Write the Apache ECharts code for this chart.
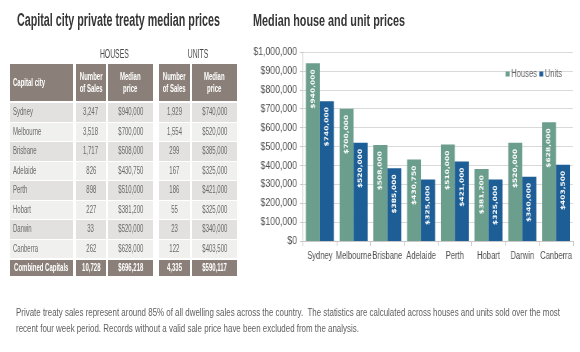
<!DOCTYPE html>
<html>
<head>
<meta charset="utf-8">
<script src="https://cdn.jsdelivr.net/npm/echarts@6/dist/echarts.min.js"></script>
<style>
  html, body { margin: 0; padding: 0; background: #fff; }
  body { width: 580px; height: 352px; position: relative; overflow: hidden;
         font-family: "Liberation Sans", Arial, sans-serif; }
  /* 图表整体横向压缩，模拟窄体字效果 */
  #chart { position: absolute; left: 0; top: 0; width: 763px; height: 352px;
           transform: scaleX(0.76); transform-origin: 0 0; }
  .abs { position: absolute; box-sizing: border-box; }
  .fit { white-space: nowrap; transform-origin: 0 0; }
  .title { font-weight: bold; color: #363636; }
  .cell { display: flex; align-items: center; justify-content: center; overflow: visible; }
  .cell span { display: inline-block; font-size: 10px; line-height: 12px; color: #6a6a6a;
               white-space: nowrap; text-align: center; transform: scaleX(0.6); }
  .cell.left { justify-content: flex-start; padding-left: 3px; }
  .cell.left span { transform-origin: 0 50%; text-align: left; }
  .head { background: #8b8079; }
  .head span { color: #fff; font-weight: bold; }
  .grp { font-size: 12px; color: #4a4a4a; text-align: center; display: flex; justify-content: center; }
  .grp span { display: inline-block; transform: scaleX(0.57); }
  .note { font-size: 11px; color: #606060; line-height: 16px; }
</style>
</head>
<body>
<div id="chart"></div>
<div id="table"></div>
<div id="leftTitle" class="abs fit title" style="left:17px; top:11px; font-size:18px; line-height:18px;">Capital city private treaty median prices</div>
<div id="chartTitle" class="abs fit title" style="left:253px; top:13px; font-size:16px; line-height:16px;">Median house and unit prices</div>
<div id="note" class="abs fit note" style="left:16px; top:304px;"><span id="noteLine1">Private treaty sales represent around 85% of all dwelling sales across the country.&nbsp; The statistics are calculated across houses and units sold over the most</span><br>recent four week period. Records without a valid sale price have been excluded from the analysis.</div>
<script>
// 数据
const cities = ['Sydney', 'Melbourne', 'Brisbane', 'Adelaide', 'Perth', 'Hobart', 'Darwin', 'Canberra'];
const houseSales = ['3,247', '3,518', '1,717', '826', '898', '227', '33', '262'];
const unitSales = ['1,929', '1,554', '299', '167', '186', '55', '23', '122'];
const housePrices = [940000, 700000, 508000, 430750, 510000, 381200, 520000, 628000];
const unitPrices = [740000, 520000, 385000, 325000, 421000, 325000, 340000, 403500];
const combined = ['Combined Capitals', '10,728', '$696,218', '4,335', '$590,117'];
const priceTicks = { min: 0, max: 1000000, interval: 100000 };

const SX = 0.76; // 图表横向压缩比例

function money(v) {
    return '$' + v.toLocaleString('en-US');
}

// 按目标宽度横向压缩文字
function fitWidth(el, measureEl, target) {
    const w = measureEl.getBoundingClientRect().width;
    el.style.transform = `scaleX(${target / w})`;
}

// 表格（左侧）
function buildTable() {
    const t = document.getElementById('table');
    const colX = [10, 76, 108, 159, 192];
    const colW = [63, 30, 45, 31, 45];
    const add = (cls, x, y, w, h, html) => {
        const d = document.createElement('div');
        d.className = 'abs ' + cls;
        d.style.cssText = `left:${x}px;top:${y}px;width:${w}px;height:${h}px;`;
        d.innerHTML = `<span>${html}</span>`;
        t.appendChild(d);
        return d;
    };
    add('grp', 76, 47, 77, 15, 'HOUSES');
    add('grp', 159, 47, 78, 15, 'UNITS');

    const header = ['Capital city', 'Number<br>of Sales', 'Median<br>price', 'Number<br>of Sales', 'Median<br>price'];
    header.forEach((h, i) => {
        add('cell head' + (i === 0 ? ' left' : ''), colX[i], 64, colW[i], 37, h);
    });

    cities.forEach((c, r) => {
        const y = 103 + r * 19.5;
        const bg = r % 2 === 0 ? '#e2e1e0' : '#f0f0ef';
        const vals = [c, houseSales[r], money(housePrices[r]), unitSales[r], money(unitPrices[r])];
        vals.forEach((v, i) => {
            const d = add('cell' + (i === 0 ? ' left' : ''), colX[i], y, colW[i], 18.5, v);
            d.style.background = bg;
        });
    });

    combined.forEach((v, i) => {
        add('cell head', colX[i], 260, colW[i], 16, v);
    });
}

// 柱状图（右侧）
function initChart() {
    const chart = echarts.init(document.getElementById('chart'));
    const labelOpt = {
        show: true,
        position: 'insideTop',
        rotate: 90,
        align: 'right',
        verticalAlign: 'middle',
        distance: 6,
        color: '#fff',
        fontSize: 7.5,
        fontWeight: 'bold',
        fontFamily: '"DejaVu Sans", sans-serif',
        formatter: p => money(p.value)
    };
    const option = {
        animation: false,
        textStyle: { fontFamily: '"Liberation Sans", Arial, sans-serif' },
        legend: {
            data: ['Houses', 'Units'],
            right: 14 / SX, top: 64,
            icon: 'rect', itemWidth: 4 / SX, itemHeight: 5, itemGap: 3,
            textStyle: { fontSize: 10, color: '#666', padding: [0, 0, 0, -3] }
        },
        grid: { left: 303 / SX, right: 7 / SX, top: 52, bottom: 111 },
        xAxis: {
            type: 'category',
            data: cities,
            axisLine: { lineStyle: { color: '#c8c8c8' } },
            axisTick: { show: true, lineStyle: { color: '#c8c8c8' } },
            axisLabel: { color: '#505050', fontSize: 10, margin: 10, interval: 0 }
        },
        yAxis: {
            type: 'value',
            min: priceTicks.min, max: priceTicks.max, interval: priceTicks.interval,
            axisLine: { show: true, lineStyle: { color: '#c8c8c8' } },
            axisTick: { show: true, length: 3 / SX, lineStyle: { color: '#c8c8c8' } },
            splitLine: { lineStyle: { color: '#d9d9d9' } },
            axisLabel: { color: '#505050', fontSize: 11.5, margin: 6 / SX, formatter: v => money(v) }
        },
        series: [
            { name: 'Houses', type: 'bar', data: housePrices, barGap: '0%', barCategoryGap: '17%',
              itemStyle: { color: '#6b9e8c' }, label: labelOpt },
            { name: 'Units', type: 'bar', data: unitPrices,
              itemStyle: { color: '#1d5e96' }, label: labelOpt }
        ]
    };
    chart.setOption(option);
}

buildTable();
initChart();
const lt = document.getElementById('leftTitle');
fitWidth(lt, lt, 203);
const ct = document.getElementById('chartTitle');
fitWidth(ct, ct, 152);
fitWidth(document.getElementById('note'), document.getElementById('noteLine1'), 544);
</script>
</body>
</html>
